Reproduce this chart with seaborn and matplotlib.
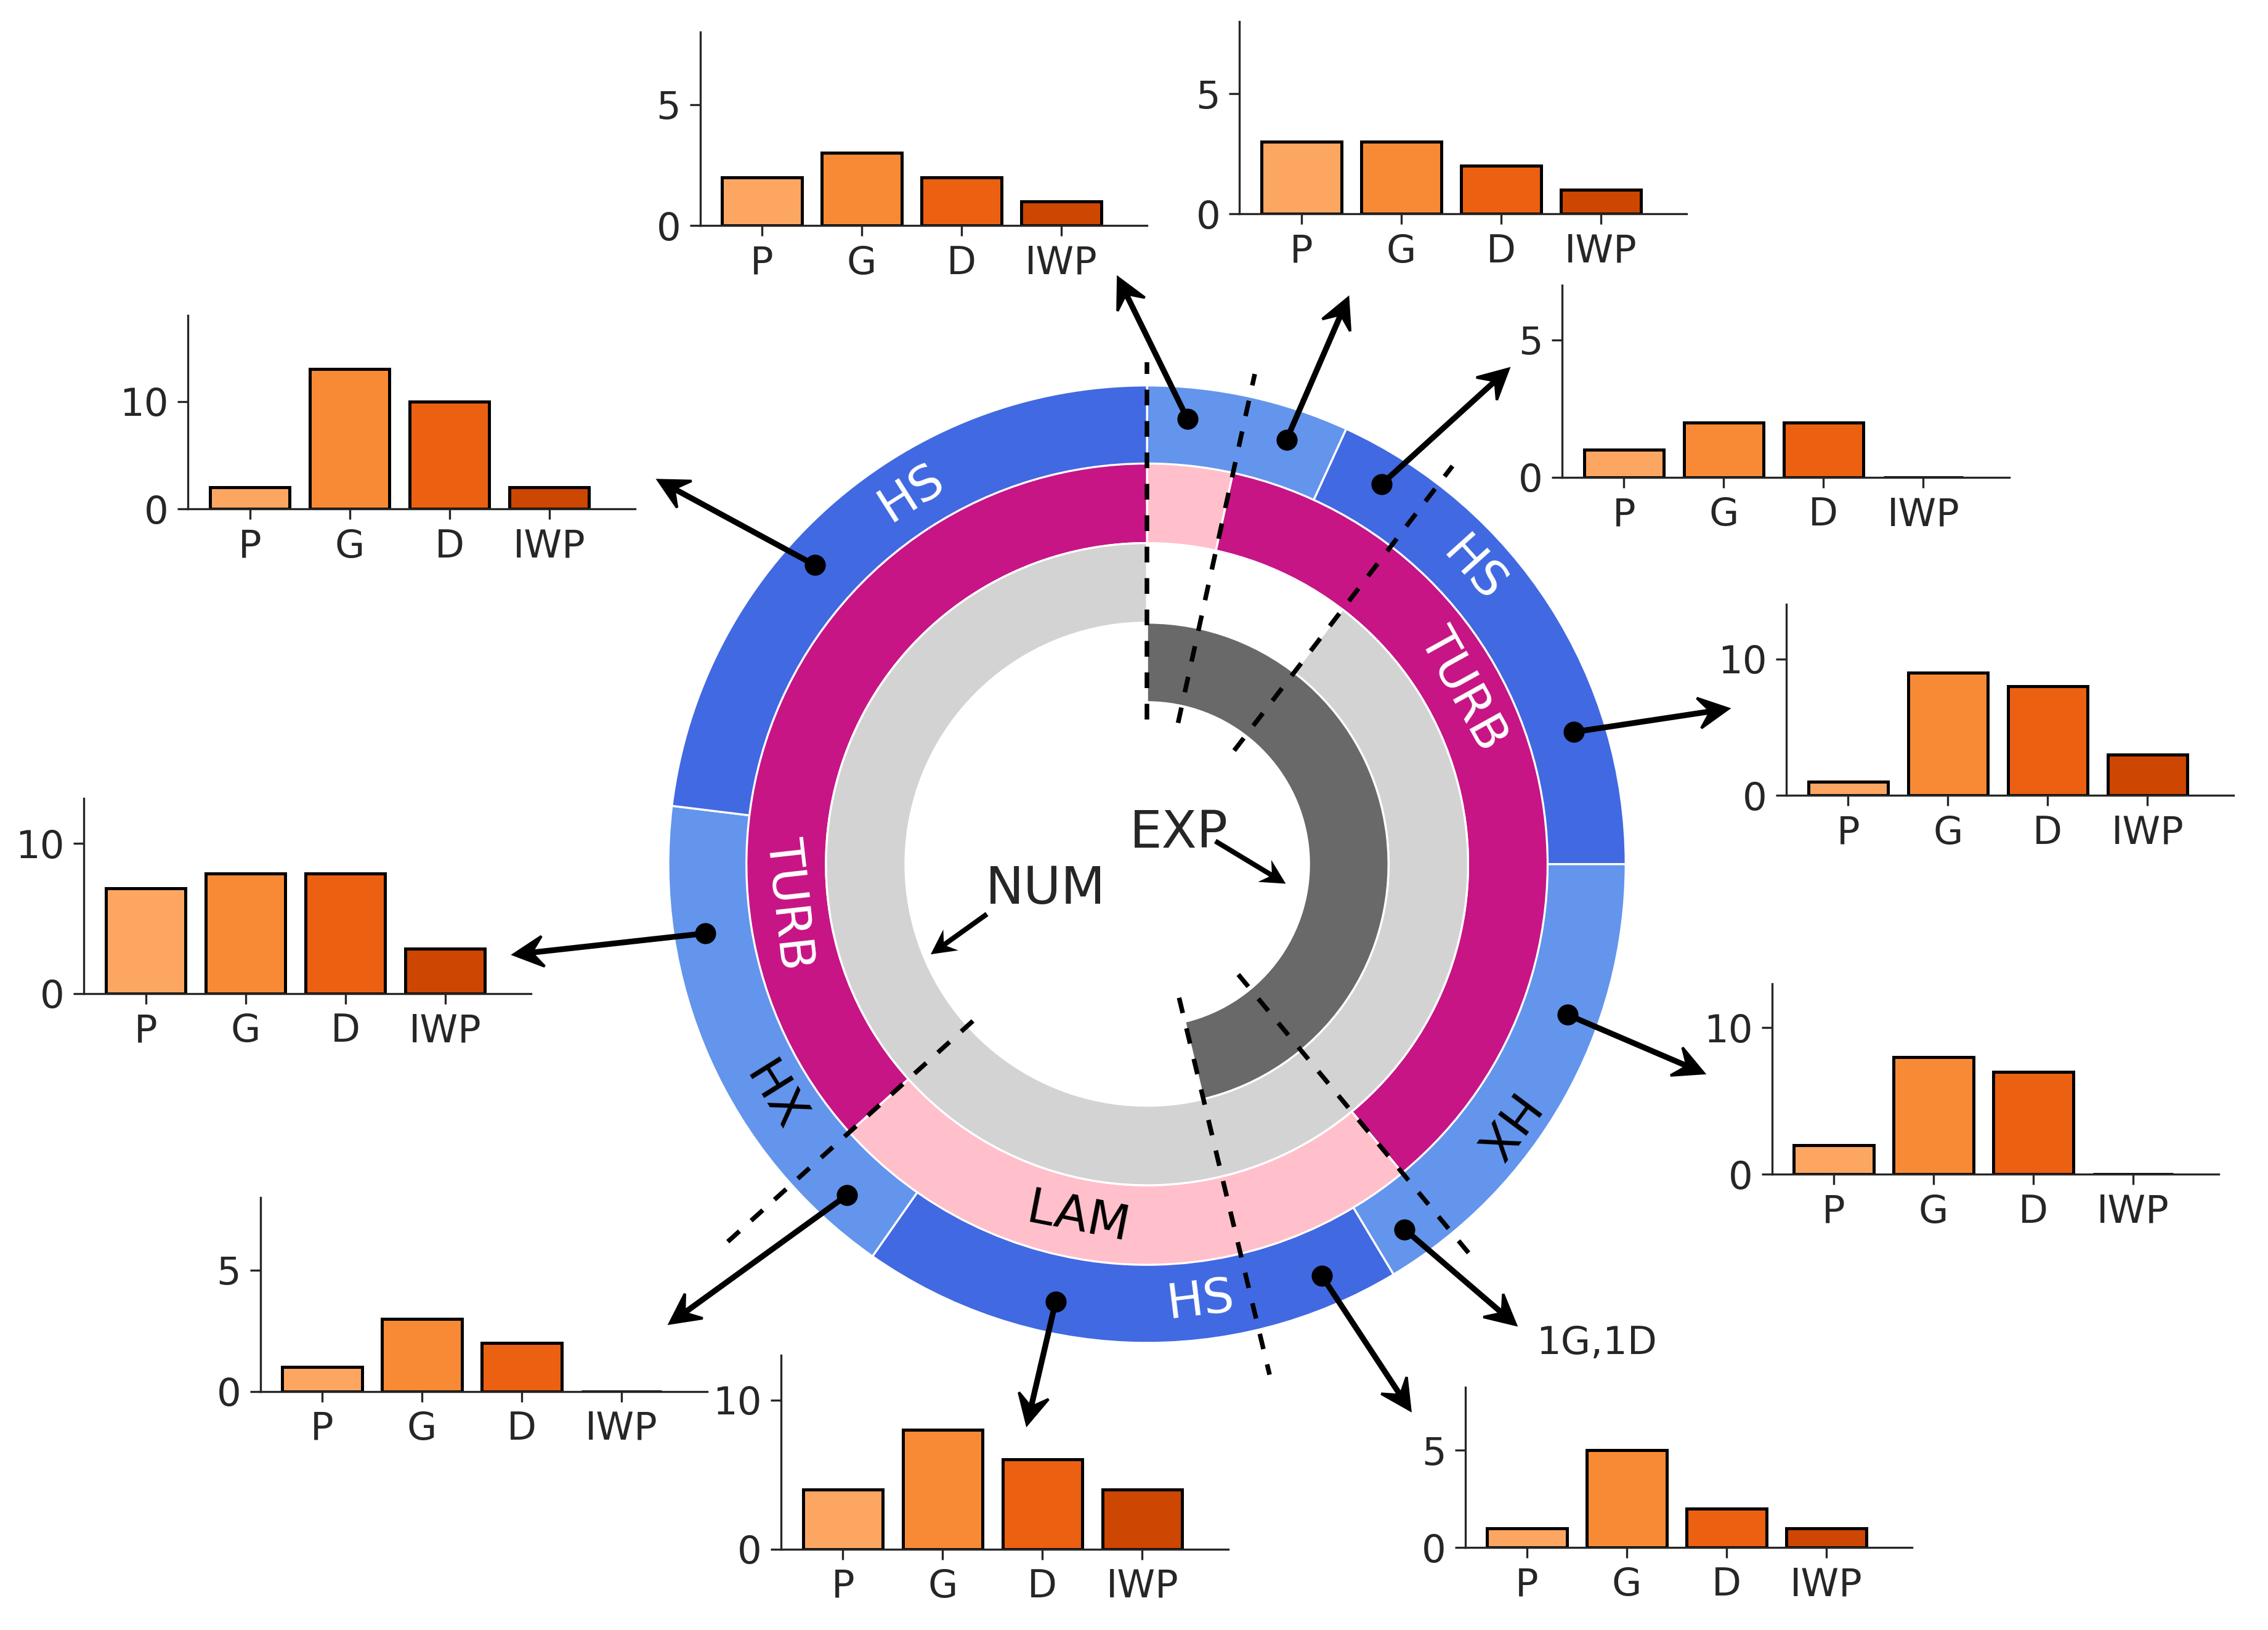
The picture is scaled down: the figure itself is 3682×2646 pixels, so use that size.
import numpy as np
import pandas as pd
import seaborn as sns
import matplotlib
matplotlib.use("Agg")
import matplotlib.pyplot as plt
from itertools import groupby

# sectors of the ring, clockwise from 12 o'clock (width in degrees)
sector_deg = [12.4, 12.2, 12.9, 52.5, 50.4, 8.6, 17.5, 48.5, 13.0, 49.0, 83.0]
sector_method = ["EXP", "EXP", "EXP", "EXP+NUM", "EXP+NUM", "EXP+NUM", "EXP+NUM",
                 "NUM", "NUM", "NUM", "NUM"]
sector_flow = ["LAM", "TURB", "TURB", "TURB", "TURB", "LAM", "LAM", "LAM", "LAM", "TURB", "TURB"]
sector_geom = ["HX", "HX", "HS", "HS", "HX", "HX", "HS", "HS", "HX", "HX", "HS"]

# counts shown in the small bar charts (one per sector)
bar_cats = ["P", "G", "D", "IWP"]
count_P = [2, 3, 1, 1, 2, 0, 1, 4, 1, 7, 2]
count_G = [3, 3, 2, 9, 8, 1, 5, 8, 3, 8, 13]
count_D = [2, 2, 2, 8, 7, 1, 2, 6, 2, 8, 10]
count_IWP = [1, 1, 0, 3, 0, 0, 1, 4, 0, 3, 2]

# ring labels
geom_labels = ["HS", "HX", "HS", "HX", "HS"]
geom_label_deg = [48, 126.8, 173, 238, 327.6]
flow_labels = ["TURB", "LAM", "TURB"]
flow_label_deg = [61, 191, 263.7]

ring_colors = {"HS": "royalblue", "HX": "cornflowerblue", "TURB": "mediumvioletred",
               "LAM": "pink", "EXP": "dimgray", "NUM": "lightgray"}
label_colors = {"HS": "white", "TURB": "white", "HX": "black", "LAM": "black"}
bar_colors = ["#fda662", "#f98a35", "#ec6012", "#cd4602"]

# ---- layout (reference pixel units, 1568 x 1127, donut centre CX, CY) ----
W, H = 1568, 1127
CX, CY = 793, 597.5
R = [112, 167, 222, 277, 331]
RING_W = 55

split_r = [(100, 347), (100, 347), (99, 347), (99, 355), (95, 363), (162, 393)]
dot_deg = [5.2, 18.2, 31.7, 72.8, 109.7, 144.8, 157, 191.8, 222.2, 261.1, 312]
dot_r = 309
tips = [(773, 192), (932, 206), (1043, 255), (1195, 490), (1178, 742), (1048, 916),
        (975, 975), (710, 985), (463, 915), (355, 660), (455, 332)]
inset_box = [(484, 22, 156), (857, 15, 148), (1080, 197, 330), (1235, 418, 550),
             (1225, 680, 812), None, (1013, 959, 1070), (540, 937, 1071),
             (180, 828, 962), (58, 552, 687), (130, 218, 352)]
inset_ytop = [8, 8, 7, 14, 13, None, 8.25, 13, 8, 13, 18]
INSET_W = 309


def img2data(x, y):
    return x - CX, CY - y


def polar(r, deg):
    t = np.deg2rad(deg)
    return r * np.sin(t), r * np.cos(t)


sns.set_style("ticks")
plt.rcParams["font.family"] = ["DejaVu Sans"]

fig = plt.figure(figsize=(3682 / 300, 2646 / 300), dpi=300)
ax = fig.add_axes([0, 0, 1, 1])


def ring(keys, r_out):
    groups = []
    for k, g in groupby(zip(keys, sector_deg), key=lambda t: t[0]):
        groups.append((k, sum(d for _, d in g)))
    labels = [k for k, _ in groups]
    sizes = [s for _, s in groups]
    cols = [ring_colors.get(k, "white") for k in labels]
    wedges, _ = ax.pie(sizes, radius=r_out, colors=cols, startangle=90, counterclock=False,
                       wedgeprops=dict(width=RING_W, edgecolor="white", linewidth=0.8))
    for w, k in zip(wedges, labels):
        if k is None:
            w.set_visible(False)


ring(sector_geom, R[4])
ring(sector_flow, R[3])
ring(["NUM" if "NUM" in m else None for m in sector_method], R[2])
ring(["EXP" if "EXP" in m else None for m in sector_method], R[1])

ax.set_xlim(-CX, W - CX)
ax.set_ylim(-(H - CY), CY)
ax.set_aspect("equal")
ax.axis("off")

# dashed split lines where flow regime or method changes
cum = np.concatenate([[0], np.cumsum(sector_deg)[:-1]])
splits = []
for i in range(len(sector_deg)):
    j = i - 1
    if sector_flow[i] != sector_flow[j] or sector_method[i] != sector_method[j]:
        splits.append(cum[i])
for deg, (r0, r1) in zip(splits, split_r):
    x0, y0 = polar(r0, deg)
    x1, y1 = polar(r1, deg)
    ax.plot([x0, x1], [y0, y1], color="black", lw=1.8, linestyle=(0, (3.4, 3.4)), zorder=4)


def ring_label(text, deg, r):
    rot = -deg + 180 if 135 < deg < 270 else -deg
    x, y = polar(r, deg)
    ax.text(x, y, text, rotation=rot, rotation_mode="anchor", ha="center", va="center",
            fontsize=19, color=label_colors[text], zorder=5)


for t, d in zip(geom_labels, geom_label_deg):
    ring_label(t, d, (R[3] + R[4]) / 2)
for t, d in zip(flow_labels, flow_label_deg):
    ring_label(t, d, (R[2] + R[3]) / 2)

# centre labels
ax.text(*img2data(723, 625), "NUM", fontsize=20, ha="center", va="baseline")
ax.text(*img2data(815, 586), "EXP", fontsize=20, ha="center", va="baseline")
for (sx, sy), (ex, ey) in [((681.6, 632.5), (645, 658.7)), ((841, 582), (887.3, 610))]:
    x0, y0 = img2data(sx, sy)
    x1, y1 = img2data(ex, ey)
    ax.arrow(x0, y0, x1 - x0, y1 - y0, width=1.7, head_width=13, head_length=12.5,
             overhang=0.3, length_includes_head=True, color="black", zorder=6)

# dots + arrows + bar insets
for i in range(len(sector_deg)):
    x0, y0 = polar(dot_r, dot_deg[i])
    x1, y1 = img2data(*tips[i])
    ax.arrow(x0, y0, x1 - x0, y1 - y0, width=2.2, head_width=21, head_length=20.5,
             overhang=0.35, length_includes_head=True, color="black", zorder=6)
    ax.plot(x0, y0, "o", color="black", ms=7.2, zorder=7)

    vals = [count_P[i], count_G[i], count_D[i], count_IWP[i]]
    if inset_box[i] is None:
        label = ",".join(f"{v}{c}" for v, c in zip(vals, bar_cats) if v > 0)
        ax.text(*img2data(1062, 936), label, fontsize=15, ha="left", va="baseline")
        continue
    left, top, bottom = inset_box[i]
    axi = fig.add_axes([left / W, 1 - bottom / H, INSET_W / W, (bottom - top) / H])
    axi.patch.set_alpha(0)
    sns.barplot(x=bar_cats, y=vals, hue=bar_cats, palette=bar_colors, legend=False,
                saturation=1, edgecolor="black", linewidth=1.2, width=0.8, ax=axi)
    axi.set_xlim(-0.62, 3.86)
    axi.set_ylim(0, inset_ytop[i])
    axi.set_yticks([0, 5] if inset_ytop[i] < 10 else [0, 10])
    axi.set_xlabel("")
    axi.set_ylabel("")
    axi.tick_params(labelsize=15, length=4, width=0.8)
    sns.despine(ax=axi)
    for s in ["left", "bottom"]:
        axi.spines[s].set_linewidth(0.8)

fig.savefig("out.png", dpi=300)
